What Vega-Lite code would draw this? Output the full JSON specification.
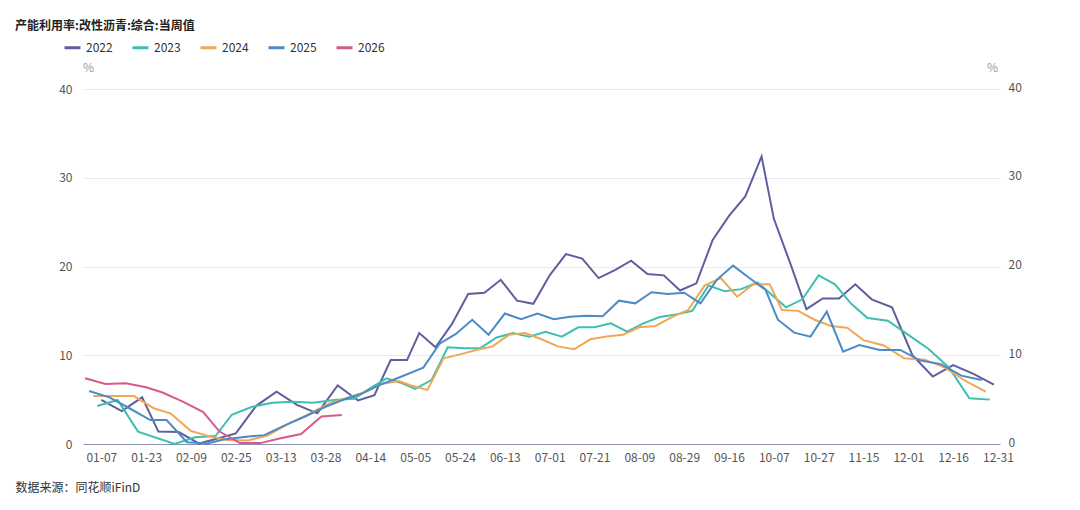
{
  "$schema": "https://vega.github.io/schema/vega-lite/v6.json",
  "autosize": {"type": "none"},
  "width": 917,
  "height": 355,
  "padding": {"left": 83, "top": 89, "right": 80, "bottom": 66},
  "background": "#ffffff",
  "config": {
    "font": "Noto Sans CJK SC",
    "view": {"stroke": null}
  },
  "title": {
    "text": "产能利用率:改性沥青:综合:当周值",
    "anchor": "start",
    "frame": "group",
    "fontSize": 12,
    "fontWeight": "bold",
    "color": "#222222",
    "dx": -68,
    "offset": 5
  },
  "data": {
    "values": [
      {"year":"2022","date":"01-07","value":4.96},{"year":"2022","date":"01-14","value":3.7},{"year":"2022","date":"01-21","value":5.26},{"year":"2022","date":"01-28","value":1.4},{"year":"2022","date":"02-04","value":1.35},{"year":"2022","date":"02-11","value":0.05},{"year":"2022","date":"02-25","value":1.2},{"year":"2022","date":"03-04","value":4.3},{"year":"2022","date":"03-11","value":5.9},{"year":"2022","date":"03-18","value":4.4},{"year":"2022","date":"03-25","value":3.45},{"year":"2022","date":"04-01","value":6.6},{"year":"2022","date":"04-08","value":4.9},{"year":"2022","date":"04-15","value":5.5},{"year":"2022","date":"04-22","value":9.46},{"year":"2022","date":"04-29","value":9.46},{"year":"2022","date":"05-06","value":12.5},{"year":"2022","date":"05-13","value":10.9},{"year":"2022","date":"05-20","value":13.5},{"year":"2022","date":"05-27","value":16.9},{"year":"2022","date":"06-03","value":17.05},{"year":"2022","date":"06-10","value":18.5},{"year":"2022","date":"06-17","value":16.15},{"year":"2022","date":"06-24","value":15.8},{"year":"2022","date":"07-01","value":19.0},{"year":"2022","date":"07-08","value":21.4},{"year":"2022","date":"07-15","value":20.9},{"year":"2022","date":"07-22","value":18.7},{"year":"2022","date":"07-29","value":19.6},{"year":"2022","date":"08-05","value":20.65},{"year":"2022","date":"08-12","value":19.15},{"year":"2022","date":"08-19","value":19.0},{"year":"2022","date":"08-26","value":17.3},{"year":"2022","date":"09-02","value":18.1},{"year":"2022","date":"09-09","value":23.0},{"year":"2022","date":"09-16","value":25.7},{"year":"2022","date":"09-23","value":27.9},{"year":"2022","date":"09-30","value":32.4},{"year":"2022","date":"10-07","value":25.4},{"year":"2022","date":"10-14","value":20.4},{"year":"2022","date":"10-21","value":15.2},{"year":"2022","date":"10-28","value":16.4},{"year":"2022","date":"11-04","value":16.4},{"year":"2022","date":"11-11","value":18.0},{"year":"2022","date":"11-18","value":16.3},{"year":"2022","date":"11-25","value":15.4},{"year":"2022","date":"12-02","value":10.0},{"year":"2022","date":"12-09","value":7.6},{"year":"2022","date":"12-16","value":8.9},{"year":"2022","date":"12-23","value":7.9},{"year":"2022","date":"12-30","value":6.7},
      {"year":"2023","date":"01-06","value":4.28},{"year":"2023","date":"01-13","value":4.96},{"year":"2023","date":"01-20","value":1.4},{"year":"2023","date":"02-03","value":0.0},{"year":"2023","date":"02-10","value":0.75},{"year":"2023","date":"02-17","value":0.9},{"year":"2023","date":"02-24","value":3.3},{"year":"2023","date":"03-03","value":4.2},{"year":"2023","date":"03-10","value":4.65},{"year":"2023","date":"03-17","value":4.75},{"year":"2023","date":"03-24","value":4.65},{"year":"2023","date":"03-31","value":4.95},{"year":"2023","date":"04-07","value":5.1},{"year":"2023","date":"04-14","value":6.3},{"year":"2023","date":"04-21","value":7.4},{"year":"2023","date":"04-28","value":6.8},{"year":"2023","date":"05-05","value":6.2},{"year":"2023","date":"05-12","value":7.2},{"year":"2023","date":"05-19","value":10.9},{"year":"2023","date":"05-26","value":10.8},{"year":"2023","date":"06-02","value":10.8},{"year":"2023","date":"06-09","value":12.0},{"year":"2023","date":"06-16","value":12.5},{"year":"2023","date":"06-23","value":12.1},{"year":"2023","date":"06-30","value":12.65},{"year":"2023","date":"07-07","value":12.1},{"year":"2023","date":"07-14","value":13.15},{"year":"2023","date":"07-21","value":13.15},{"year":"2023","date":"07-28","value":13.6},{"year":"2023","date":"08-04","value":12.65},{"year":"2023","date":"08-11","value":13.6},{"year":"2023","date":"08-18","value":14.3},{"year":"2023","date":"08-25","value":14.6},{"year":"2023","date":"09-01","value":15.0},{"year":"2023","date":"09-08","value":17.85},{"year":"2023","date":"09-15","value":17.2},{"year":"2023","date":"09-22","value":17.45},{"year":"2023","date":"09-29","value":18.2},{"year":"2023","date":"10-13","value":15.4},{"year":"2023","date":"10-20","value":16.3},{"year":"2023","date":"10-27","value":19.0},{"year":"2023","date":"11-03","value":18.0},{"year":"2023","date":"11-10","value":15.8},{"year":"2023","date":"11-17","value":14.2},{"year":"2023","date":"11-24","value":13.9},{"year":"2023","date":"12-01","value":12.3},{"year":"2023","date":"12-08","value":10.7},{"year":"2023","date":"12-15","value":8.6},{"year":"2023","date":"12-22","value":5.15},{"year":"2023","date":"12-29","value":5.0},
      {"year":"2024","date":"01-05","value":5.4},{"year":"2024","date":"01-12","value":5.4},{"year":"2024","date":"01-19","value":5.4},{"year":"2024","date":"01-26","value":4.0},{"year":"2024","date":"02-02","value":3.45},{"year":"2024","date":"02-09","value":1.46},{"year":"2024","date":"02-16","value":0.8},{"year":"2024","date":"02-23","value":0.45},{"year":"2024","date":"03-01","value":0.4},{"year":"2024","date":"03-08","value":1.0},{"year":"2024","date":"03-15","value":2.3},{"year":"2024","date":"03-22","value":3.4},{"year":"2024","date":"03-29","value":4.6},{"year":"2024","date":"04-05","value":5.3},{"year":"2024","date":"04-12","value":5.9},{"year":"2024","date":"04-19","value":6.8},{"year":"2024","date":"04-26","value":7.1},{"year":"2024","date":"05-03","value":6.6},{"year":"2024","date":"05-10","value":6.1},{"year":"2024","date":"05-17","value":9.65},{"year":"2024","date":"05-24","value":10.1},{"year":"2024","date":"05-31","value":10.6},{"year":"2024","date":"06-07","value":11.0},{"year":"2024","date":"06-14","value":12.3},{"year":"2024","date":"06-21","value":12.5},{"year":"2024","date":"06-28","value":11.8},{"year":"2024","date":"07-05","value":11.0},{"year":"2024","date":"07-12","value":10.67},{"year":"2024","date":"07-19","value":11.8},{"year":"2024","date":"07-26","value":12.1},{"year":"2024","date":"08-02","value":12.3},{"year":"2024","date":"08-09","value":13.15},{"year":"2024","date":"08-16","value":13.3},{"year":"2024","date":"08-23","value":14.3},{"year":"2024","date":"08-30","value":15.1},{"year":"2024","date":"09-06","value":17.85},{"year":"2024","date":"09-13","value":18.7},{"year":"2024","date":"09-20","value":16.6},{"year":"2024","date":"09-27","value":18.0},{"year":"2024","date":"10-04","value":18.0},{"year":"2024","date":"10-11","value":15.1},{"year":"2024","date":"10-18","value":15.0},{"year":"2024","date":"10-25","value":14.0},{"year":"2024","date":"11-01","value":13.3},{"year":"2024","date":"11-08","value":13.1},{"year":"2024","date":"11-15","value":11.7},{"year":"2024","date":"11-22","value":11.1},{"year":"2024","date":"11-29","value":9.65},{"year":"2024","date":"12-06","value":9.5},{"year":"2024","date":"12-13","value":8.6},{"year":"2024","date":"12-20","value":7.1},{"year":"2024","date":"12-27","value":5.9},
      {"year":"2025","date":"01-03","value":5.97},{"year":"2025","date":"01-10","value":5.26},{"year":"2025","date":"01-17","value":4.0},{"year":"2025","date":"01-24","value":2.7},{"year":"2025","date":"01-31","value":2.7},{"year":"2025","date":"02-07","value":0.2},{"year":"2025","date":"02-14","value":0.05},{"year":"2025","date":"02-21","value":0.5},{"year":"2025","date":"02-28","value":0.8},{"year":"2025","date":"03-07","value":1.0},{"year":"2025","date":"03-14","value":2.1},{"year":"2025","date":"03-21","value":3.1},{"year":"2025","date":"03-28","value":4.2},{"year":"2025","date":"04-04","value":5.1},{"year":"2025","date":"04-11","value":5.7},{"year":"2025","date":"04-18","value":6.6},{"year":"2025","date":"04-25","value":7.3},{"year":"2025","date":"05-09","value":8.6},{"year":"2025","date":"05-16","value":11.3},{"year":"2025","date":"05-23","value":12.4},{"year":"2025","date":"05-30","value":14.0},{"year":"2025","date":"06-06","value":12.3},{"year":"2025","date":"06-13","value":14.7},{"year":"2025","date":"06-20","value":14.05},{"year":"2025","date":"06-27","value":14.7},{"year":"2025","date":"07-04","value":14.05},{"year":"2025","date":"07-11","value":14.35},{"year":"2025","date":"07-18","value":14.45},{"year":"2025","date":"07-25","value":14.4},{"year":"2025","date":"08-01","value":16.15},{"year":"2025","date":"08-08","value":15.85},{"year":"2025","date":"08-15","value":17.1},{"year":"2025","date":"08-22","value":16.9},{"year":"2025","date":"08-29","value":17.05},{"year":"2025","date":"09-05","value":15.85},{"year":"2025","date":"09-12","value":18.5},{"year":"2025","date":"09-19","value":20.1},{"year":"2025","date":"09-26","value":18.7},{"year":"2025","date":"10-03","value":17.35},{"year":"2025","date":"10-10","value":14.0},{"year":"2025","date":"10-17","value":12.55},{"year":"2025","date":"10-24","value":12.1},{"year":"2025","date":"10-31","value":14.9},{"year":"2025","date":"11-07","value":10.4},{"year":"2025","date":"11-14","value":11.15},{"year":"2025","date":"11-21","value":10.6},{"year":"2025","date":"11-28","value":10.6},{"year":"2025","date":"12-05","value":9.4},{"year":"2025","date":"12-12","value":9.0},{"year":"2025","date":"12-19","value":7.7},{"year":"2025","date":"12-26","value":7.2},
      {"year":"2026","date":"01-02","value":7.4},{"year":"2026","date":"01-09","value":6.76},{"year":"2026","date":"01-16","value":6.84},{"year":"2026","date":"01-23","value":6.4},{"year":"2026","date":"01-30","value":5.8},{"year":"2026","date":"02-06","value":4.77},{"year":"2026","date":"02-13","value":3.6},{"year":"2026","date":"02-20","value":1.4},{"year":"2026","date":"02-27","value":0.1},{"year":"2026","date":"03-06","value":0.1},{"year":"2026","date":"03-13","value":0.64},{"year":"2026","date":"03-20","value":1.13},{"year":"2026","date":"03-27","value":3.1},{"year":"2026","date":"04-03","value":3.27}
    ]
  },
  "encoding": {
    "x": {
      "field": "date",
      "type": "ordinal",
      "scale": {
        "type": "point",
        "padding": 0.5,
        "domain": ["01-02","01-03","01-05","01-06","01-07","01-09","01-10","01-12","01-13","01-14","01-16","01-17","01-19","01-20","01-21","01-23","01-24","01-26","01-28","01-30","01-31",
          "02-02","02-03","02-04","02-06","02-07","02-09","02-10","02-11","02-13","02-14","02-16","02-17","02-20","02-21","02-23","02-24","02-25","02-27","02-28",
          "03-01","03-03","03-04","03-06","03-07","03-08","03-10","03-11","03-13","03-14","03-15","03-17","03-18","03-20","03-21","03-22","03-24","03-25","03-27","03-28","03-29","03-31",
          "04-01","04-03","04-04","04-05","04-07","04-08","04-11","04-12","04-14","04-15","04-18","04-19","04-21","04-22","04-25","04-26","04-28","04-29",
          "05-03","05-05","05-06","05-09","05-10","05-12","05-13","05-16","05-17","05-19","05-20","05-23","05-24","05-26","05-27","05-30","05-31",
          "06-02","06-03","06-06","06-07","06-09","06-10","06-13","06-14","06-16","06-17","06-20","06-21","06-23","06-24","06-27","06-28","06-30",
          "07-01","07-04","07-05","07-07","07-08","07-11","07-12","07-14","07-15","07-18","07-19","07-21","07-22","07-25","07-26","07-28","07-29",
          "08-01","08-02","08-04","08-05","08-08","08-09","08-11","08-12","08-15","08-16","08-18","08-19","08-22","08-23","08-25","08-26","08-29","08-30",
          "09-01","09-02","09-05","09-06","09-08","09-09","09-12","09-13","09-15","09-16","09-19","09-20","09-22","09-23","09-26","09-27","09-29","09-30",
          "10-03","10-04","10-07","10-10","10-11","10-13","10-14","10-17","10-18","10-20","10-21","10-24","10-25","10-27","10-28","10-31",
          "11-01","11-03","11-04","11-07","11-08","11-10","11-11","11-14","11-15","11-17","11-18","11-19","11-21","11-22","11-24","11-25","11-26","11-28","11-29",
          "12-01","12-02","12-03","12-05","12-06","12-08","12-09","12-10","12-12","12-13","12-15","12-16","12-17","12-19","12-20","12-22","12-23","12-24","12-26","12-27","12-29","12-30","12-31"]
      },
      "axis": {
        "values": ["01-07","01-23","02-09","02-25","03-13","03-28","04-14","05-05","05-24","06-13","07-01","07-21","08-09","08-29","09-16","10-07","10-27","11-15","12-01","12-16","12-31"],
        "labelAngle": 0,
        "labelOverlap": false,
        "ticks": false,
        "grid": false,
        "domainColor": "#8c8fb4",
        "domainWidth": 1,
        "labelColor": "#555555",
        "labelFontSize": 12,
        "labelPadding": 8,
        "title": "数据来源：同花顺iFinD",
        "titleX": -68,
        "titleY": 47,
        "titleAlign": "left",
        "titleBaseline": "alphabetic",
        "titleFontWeight": "normal",
        "titleFontSize": 12,
        "titleColor": "#333333"
      }
    },
    "y": {
      "field": "value",
      "type": "quantitative",
      "scale": {"domain": [0, 40], "nice": false}
    }
  },
  "layer": [
    {
      "mark": {"type": "line", "strokeWidth": 2},
      "encoding": {
        "color": {
          "field": "year",
          "type": "nominal",
          "scale": {
            "domain": ["2022","2023","2024","2025","2026"],
            "range": ["#5e5f9e","#3ebfaf","#f0a857","#4c8bc8","#d8588f"]
          },
          "legend": {
            "orient": "none",
            "legendX": -20,
            "legendY": -51,
            "direction": "horizontal",
            "title": null,
            "symbolType": "stroke",
            "symbolStrokeWidth": 3,
            "symbolSize": 256,
            "labelFontSize": 12,
            "labelColor": "#333333",
            "labelOffset": 4,
            "columnPadding": 13,
            "padding": 0
          }
        },
        "y": {
          "field": "value",
          "type": "quantitative",
          "scale": {"domain": [0, 40], "nice": false},
          "axis": {
            "orient": "left",
            "values": [0, 10, 20, 30, 40],
            "domain": false,
            "ticks": false,
            "grid": true,
            "gridColor": "#E8EBF2",
            "labelColor": "#555555",
            "labelFontSize": 12,
            "labelPadding": 11,
            "title": "%",
            "titleAngle": 0,
            "titleX": 5,
            "titleY": -18,
            "titleAlign": "center",
            "titleBaseline": "alphabetic",
            "titleFontWeight": "normal",
            "titleFontSize": 12,
            "titleColor": "#999999"
          }
        }
      }
    },
    {
      "mark": {"type": "line", "strokeWidth": 2, "opacity": 0},
      "encoding": {
        "detail": {"field": "year"},
        "y": {
          "field": "value",
          "type": "quantitative",
          "scale": {"domain": [0, 40], "nice": false},
          "axis": {
            "orient": "right",
            "values": [0, 10, 20, 30, 40],
            "domain": false,
            "ticks": false,
            "grid": false,
            "labelColor": "#555555",
            "labelFontSize": 12,
            "labelPadding": 8,
            "labelBaseline": "bottom",
            "labelOffset": 5,
            "title": "%",
            "titleAngle": 0,
            "titleX": -8,
            "titleY": -18,
            "titleAlign": "center",
            "titleBaseline": "alphabetic",
            "titleFontWeight": "normal",
            "titleFontSize": 12,
            "titleColor": "#999999"
          }
        }
      }
    }
  ],
  "resolve": {"axis": {"y": "independent"}}
}
